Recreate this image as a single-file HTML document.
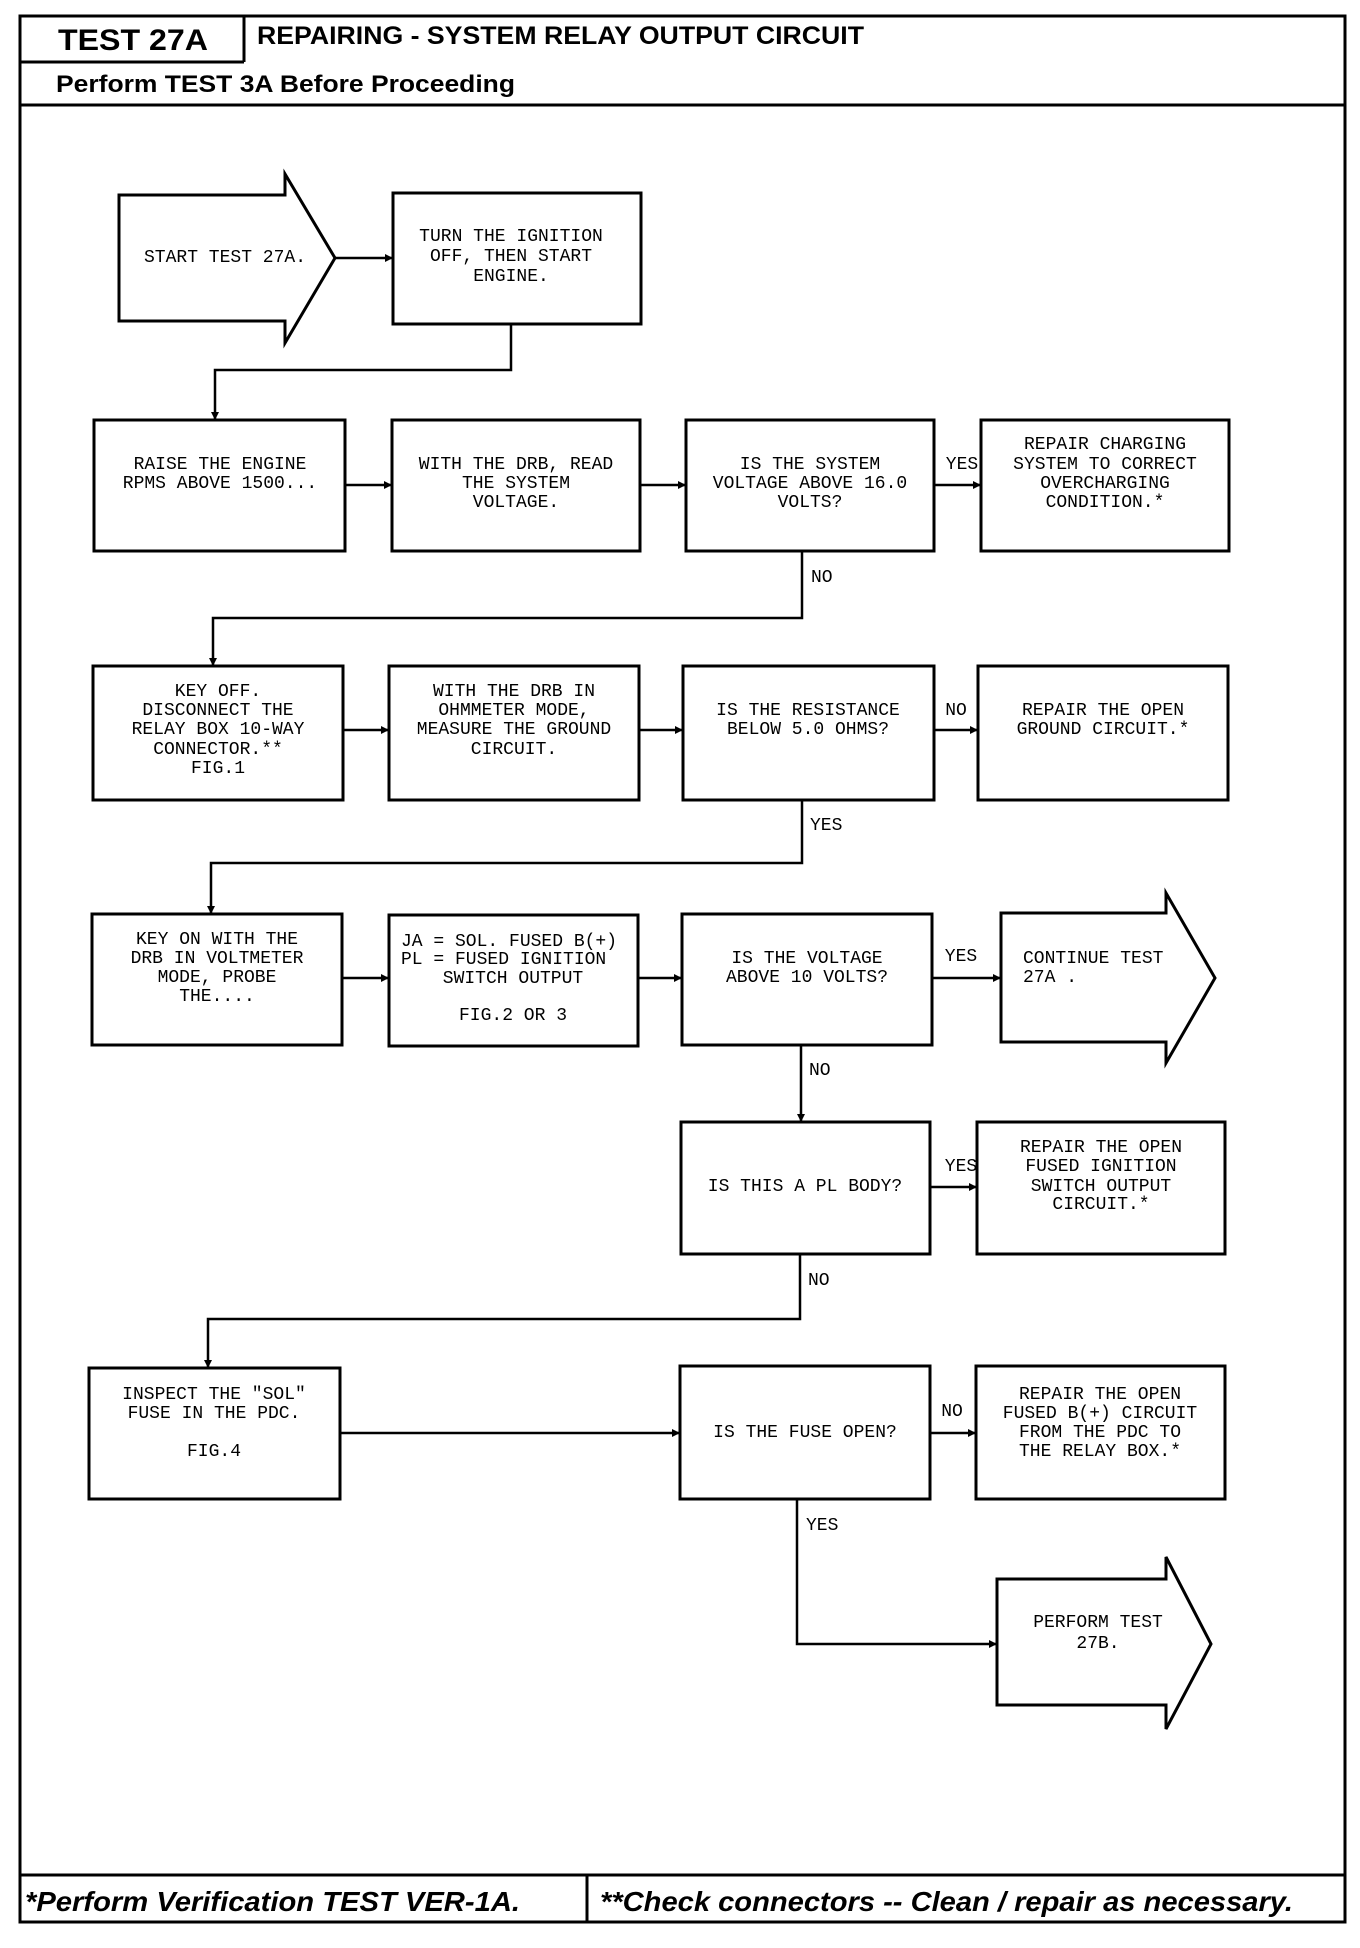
<!DOCTYPE html>
<html><head><meta charset="utf-8"><style>
html,body{margin:0;padding:0;background:#fff;width:1360px;height:1948px;overflow:hidden}
svg{display:block}
.t{font-family:"Liberation Mono",monospace;font-size:18px;fill:#000;text-anchor:middle;dominant-baseline:central}
.l{text-anchor:start}
.h{font-family:"Liberation Sans",sans-serif;font-weight:bold;fill:#000}
</style></head><body>
<svg width="1360" height="1948" viewBox="0 0 1360 1948" xmlns="http://www.w3.org/2000/svg">
<defs><marker id="a" markerWidth="8" markerHeight="8" refX="7" refY="4" orient="auto" markerUnits="userSpaceOnUse"><path d="M0,0 L8,4 L0,8 z" fill="#000"/></marker></defs>
<g fill="none" stroke="#000" stroke-width="3">
<rect x="20" y="16" width="1325" height="1906"/>
<line x1="20" y1="62" x2="244" y2="62"/><line x1="244" y1="16" x2="244" y2="62"/>
<line x1="20" y1="105" x2="1345" y2="105"/>
<line x1="20" y1="1875" x2="1345" y2="1875"/><line x1="587" y1="1875" x2="587" y2="1922"/>
<path d="M119,195 H285 V174 L335,258 L285,343 V321 H119 Z"/>
<rect x="393" y="193" width="248" height="131"/>
<rect x="94" y="420" width="251" height="131"/>
<rect x="392" y="420" width="248" height="131"/>
<rect x="686" y="420" width="248" height="131"/>
<rect x="981" y="420" width="248" height="131"/>
<rect x="93" y="666" width="250" height="134"/>
<rect x="389" y="666" width="250" height="134"/>
<rect x="683" y="666" width="251" height="134"/>
<rect x="978" y="666" width="250" height="134"/>
<rect x="92" y="914" width="250" height="131"/>
<rect x="389" y="915" width="249" height="131"/>
<rect x="682" y="914" width="250" height="131"/>
<path d="M1001,913 H1166 V893 L1215,978 L1166,1063 V1042 H1001 Z"/>
<rect x="681" y="1122" width="249" height="132"/>
<rect x="977" y="1122" width="248" height="132"/>
<rect x="89" y="1368" width="251" height="131"/>
<rect x="680" y="1366" width="250" height="133"/>
<rect x="976" y="1366" width="249" height="133"/>
<path d="M997,1579 H1166 V1557 L1211,1644 L1166,1729 V1705 H997 Z"/>
</g>
<g fill="none" stroke="#000" stroke-width="2.5" marker-end="url(#a)">
<line x1="335" y1="258" x2="392" y2="258"/>
<polyline points="511,324 511,370 215,370 215,419"/>
<line x1="345" y1="485" x2="391" y2="485"/>
<line x1="640" y1="485" x2="685" y2="485"/>
<line x1="934" y1="485" x2="980" y2="485"/>
<polyline points="802,551 802,618 213,618 213,665"/>
<line x1="343" y1="730" x2="388" y2="730"/>
<line x1="639" y1="730" x2="682" y2="730"/>
<line x1="934" y1="730" x2="977" y2="730"/>
<polyline points="802,800 802,863 211,863 211,913"/>
<line x1="342" y1="978" x2="388" y2="978"/>
<line x1="638" y1="978" x2="681" y2="978"/>
<line x1="932" y1="978" x2="1000" y2="978"/>
<line x1="801" y1="1045" x2="801" y2="1121"/>
<line x1="930" y1="1187" x2="976" y2="1187"/>
<polyline points="800,1254 800,1319 208,1319 208,1367"/>
<line x1="340" y1="1433" x2="679" y2="1433"/>
<line x1="930" y1="1433" x2="975" y2="1433"/>
<polyline points="797,1499 797,1644 996,1644"/>
</g>
<text class="h" x="133" y="50" font-size="30" text-anchor="middle" textLength="150" lengthAdjust="spacingAndGlyphs">TEST 27A</text>
<text class="h" x="257" y="44" font-size="25" textLength="607" lengthAdjust="spacingAndGlyphs">REPAIRING - SYSTEM RELAY OUTPUT CIRCUIT</text>
<text class="h" x="56" y="92" font-size="24" textLength="459" lengthAdjust="spacingAndGlyphs">Perform TEST 3A Before Proceeding</text>
<text class="h" x="25" y="1911" font-size="28" font-style="italic" textLength="495" lengthAdjust="spacingAndGlyphs">*Perform Verification TEST VER-1A.</text>
<text class="h" x="600" y="1911" font-size="28" font-style="italic" textLength="693" lengthAdjust="spacingAndGlyphs">**Check connectors -- Clean / repair as necessary.</text>
<text class="t" x="225" y="258">START TEST 27A.</text>
<text class="t" x="511" y="237">TURN THE IGNITION</text>
<text class="t" x="511" y="257">OFF, THEN START</text>
<text class="t" x="511" y="277">ENGINE.</text>
<text class="t" x="220" y="465">RAISE THE ENGINE</text>
<text class="t" x="220" y="484">RPMS ABOVE 1500...</text>
<text class="t" x="516" y="465">WITH THE DRB, READ</text>
<text class="t" x="516" y="484">THE SYSTEM</text>
<text class="t" x="516" y="503">VOLTAGE.</text>
<text class="t" x="810" y="465">IS THE SYSTEM</text>
<text class="t" x="810" y="484">VOLTAGE ABOVE 16.0</text>
<text class="t" x="810" y="503">VOLTS?</text>
<text class="t" x="1105" y="445">REPAIR CHARGING</text>
<text class="t" x="1105" y="465">SYSTEM TO CORRECT</text>
<text class="t" x="1105" y="484">OVERCHARGING</text>
<text class="t" x="1105" y="503">CONDITION.*</text>
<text class="t" x="962" y="465">YES</text>
<text class="t l" x="811" y="578">NO</text>
<text class="t" x="218" y="692">KEY OFF.</text>
<text class="t" x="218" y="711">DISCONNECT THE</text>
<text class="t" x="218" y="730">RELAY BOX 10-WAY</text>
<text class="t" x="218" y="750">CONNECTOR.**</text>
<text class="t" x="218" y="769">FIG.1</text>
<text class="t" x="514" y="692">WITH THE DRB IN</text>
<text class="t" x="514" y="711">OHMMETER MODE,</text>
<text class="t" x="514" y="730">MEASURE THE GROUND</text>
<text class="t" x="514" y="750">CIRCUIT.</text>
<text class="t" x="808" y="711">IS THE RESISTANCE</text>
<text class="t" x="808" y="730">BELOW 5.0 OHMS?</text>
<text class="t" x="1103" y="711">REPAIR THE OPEN</text>
<text class="t" x="1103" y="730">GROUND CIRCUIT.*</text>
<text class="t" x="956" y="711">NO</text>
<text class="t l" x="810" y="826">YES</text>
<text class="t" x="217" y="940">KEY ON WITH THE</text>
<text class="t" x="217" y="959">DRB IN VOLTMETER</text>
<text class="t" x="217" y="978">MODE, PROBE</text>
<text class="t" x="217" y="997">THE....</text>
<text class="t l" x="401" y="942">JA = SOL. FUSED B(+)</text>
<text class="t l" x="401" y="960">PL = FUSED IGNITION</text>
<text class="t" x="513" y="979">SWITCH OUTPUT</text>
<text class="t" x="513" y="1016">FIG.2 OR 3</text>
<text class="t" x="807" y="959">IS THE VOLTAGE</text>
<text class="t" x="807" y="978">ABOVE 10 VOLTS?</text>
<text class="t" x="961" y="957">YES</text>
<text class="t l" x="1023" y="959">CONTINUE TEST</text>
<text class="t l" x="1023" y="978">27A .</text>
<text class="t l" x="809" y="1071">NO</text>
<text class="t" x="805" y="1187">IS THIS A PL BODY?</text>
<text class="t" x="1101" y="1148">REPAIR THE OPEN</text>
<text class="t" x="1101" y="1167">FUSED IGNITION</text>
<text class="t" x="1101" y="1187">SWITCH OUTPUT</text>
<text class="t" x="1101" y="1205">CIRCUIT.*</text>
<text class="t" x="961" y="1167">YES</text>
<text class="t l" x="808" y="1281">NO</text>
<text class="t" x="214" y="1395">INSPECT THE "SOL"</text>
<text class="t" x="214" y="1414">FUSE IN THE PDC.</text>
<text class="t" x="214" y="1452">FIG.4</text>
<text class="t" x="805" y="1433">IS THE FUSE OPEN?</text>
<text class="t" x="952" y="1412">NO</text>
<text class="t" x="1100" y="1395">REPAIR THE OPEN</text>
<text class="t" x="1100" y="1414">FUSED B(+) CIRCUIT</text>
<text class="t" x="1100" y="1433">FROM THE PDC TO</text>
<text class="t" x="1100" y="1452">THE RELAY BOX.*</text>
<text class="t l" x="806" y="1526">YES</text>
<text class="t" x="1098" y="1623">PERFORM TEST</text>
<text class="t" x="1098" y="1644">27B.</text>
</svg>
</body></html>
